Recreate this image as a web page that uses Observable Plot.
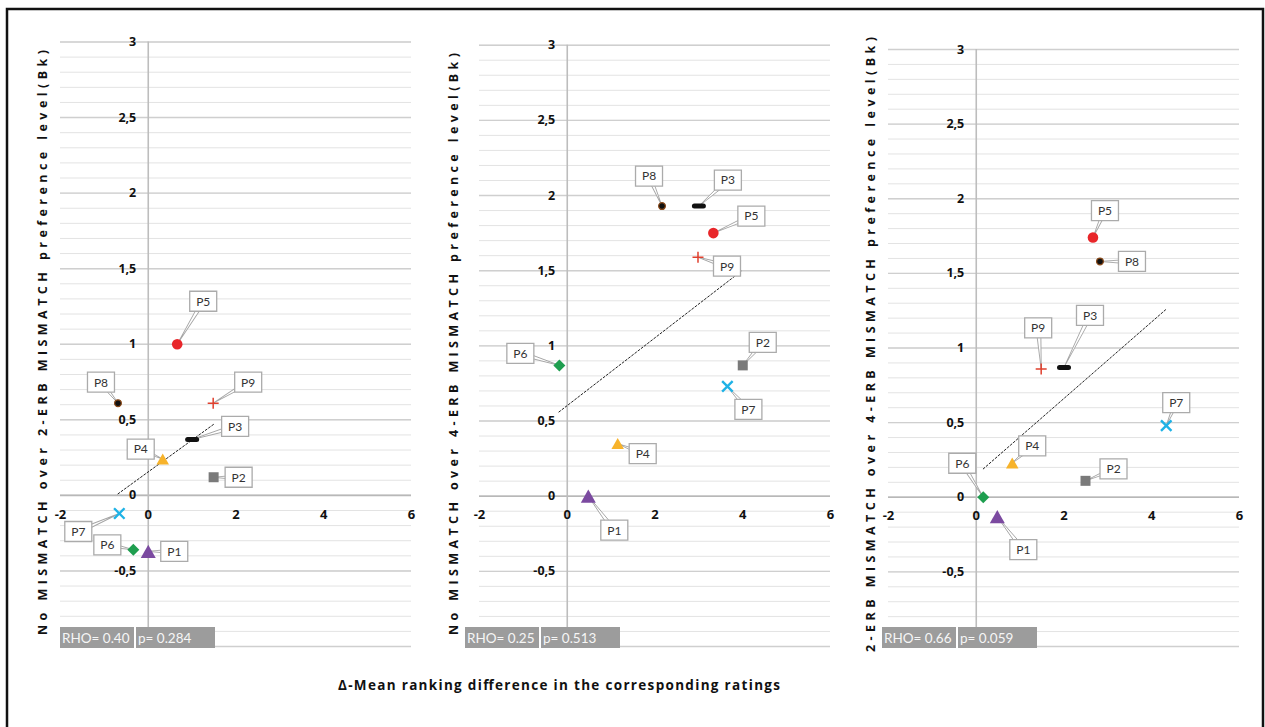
<!DOCTYPE html>
<html><head><meta charset="utf-8">
<script src="https://cdn.jsdelivr.net/npm/d3@7"></script>
<script src="https://cdn.jsdelivr.net/npm/@observablehq/plot@0.6"></script>
<style>
html,body{margin:0;padding:0;background:#fff;}
#root{position:relative;width:1265px;height:727px;overflow:hidden;font-family:Lato,"Open Sans",sans-serif;}
.panel{position:absolute;top:0;}
.stat{position:absolute;height:21px;background:#9c9c9c;color:#f6f6f6;font:13.5px Lato,sans-serif;line-height:22px;white-space:nowrap;}
.stat span{position:absolute;top:0;height:21px;padding-left:2px;}
.stat .sep{position:absolute;top:0;width:2px;height:21px;background:#fff;}
#overlay{position:absolute;left:0;top:0;pointer-events:none;}
</style></head><body><div id="root"></div>
<script>
// ---------- data ----------
const participants = ["P1","P2","P3","P4","P5","P6","P7","P8","P9"];
const panel1X = [0.0, 1.49, 1.0, 0.33, 0.66, -0.34, -0.66, -0.69, 1.48];
const panel1Y = [-0.37, 0.12, 0.37, 0.24, 1.0, -0.36, -0.12, 0.61, 0.61];
const panel2X = [0.48, 4.0, 3.0, 1.15, 3.33, -0.18, 3.65, 2.16, 2.98];
const panel2Y = [0.0, 0.87, 1.93, 0.35, 1.75, 0.87, 0.73, 1.93, 1.59];
const panel3X = [0.48, 2.49, 2.0, 0.82, 2.66, 0.16, 4.33, 2.82, 1.48];
const panel3Y = [-0.13, 0.11, 0.87, 0.23, 1.74, 0.0, 0.48, 1.58, 0.86];
// regression (trend) line endpoints [x1, y1, x2, y2]
const trend1 = [-0.69, 0.01, 1.49, 0.47];
const trend2 = [-0.19, 0.56, 3.98, 1.50];
const trend3 = [0.16, 0.19, 4.33, 1.26];
const rhoValues = ["0.40", "0.25", "0.66"];
const pValues = ["0.284", "0.513", "0.059"];
const yTitles = [
  "No MISMATCH over 2-ERB MISMATCH preference level(Bk)",
  "No MISMATCH over 4-ERB MISMATCH preference level(Bk)",
  "2-ERB MISMATCH over 4-ERB MISMATCH preference level(Bk)"
];
const xTitle = "Δ-Mean ranking difference in the corresponding ratings";
const yTickValues = [-0.5, 0, 0.5, 1, 1.5, 2, 2.5, 3];
const yTickLabels = ["-0,5", "0", "0,5", "1", "1,5", "2", "2,5", "3"];
const xTickValues = [-2, 0, 2, 4, 6];
const xTickLabels = ["-2", "0", "2", "4", "6"];

// ---------- styles / layout ----------
const S = {
  circle: r => ({draw(c){ c.moveTo(r,0); c.arc(0,0,r,0,2*Math.PI); }}),
  tri: w => ({draw(c){ const h=w*0.88; c.moveTo(0,-h/2); c.lineTo(w/2,h/2); c.lineTo(-w/2,h/2); c.closePath(); }}),
  square: s => ({draw(c){ c.rect(-s/2,-s/2,s,s); }}),
  diamond: s => ({draw(c){ c.moveTo(0,-s/2); c.lineTo(s/2,0); c.lineTo(0,s/2); c.lineTo(-s/2,0); c.closePath(); }}),
  plus: s => ({draw(c){ c.moveTo(-s/2,0); c.lineTo(s/2,0); c.moveTo(0,-s/2); c.lineTo(0,s/2); }}),
  times: s => ({draw(c){ c.moveTo(-s/2,-s/2); c.lineTo(s/2,s/2); c.moveTo(s/2,-s/2); c.lineTo(-s/2,s/2); }}),
  dash: (w,h) => ({draw(c){ const r=h/2; c.moveTo(-w/2+r,-r); c.lineTo(w/2-r,-r); c.arc(w/2-r,0,r,-Math.PI/2,Math.PI/2); c.lineTo(-w/2+r,r); c.arc(-w/2+r,0,r,Math.PI/2,3*Math.PI/2); c.closePath(); }})
};
const markerStyle = {
  P1: {symbol: S.tri(15), fill: "#7b4aa0", stroke: "none"},
  P2: {symbol: S.square(10), fill: "#7a7a7a", stroke: "none"},
  P3: {symbol: S.dash(14,5), fill: "#111", stroke: "none"},
  P4: {symbol: S.tri(12.5), fill: "#f7b32b", stroke: "none"},
  P5: {symbol: S.circle(5.3), fill: "#e8262a", stroke: "none"},
  P6: {symbol: S.diamond(12), fill: "#1e9e4f", stroke: "none"},
  P7: {symbol: S.times(10.5), fill: "none", stroke: "#1fb2e6", strokeWidth: 2.4},
  P8: {symbol: S.circle(3.4), fill: "#111", stroke: "#8a4a1a", strokeWidth: 1.2},
  P9: {symbol: S.plus(11), fill: "none", stroke: "#e0402e", strokeWidth: 1.5}
};
// callout offsets (px) from each point to its label box centre, P1..P9
const labelOffsets = [
  [[26,0],[25,0],[43,-13],[-22,-10],[26,-43],[-26,-5],[-41,18],[-17,-21],[35,-21]],
  [[26,34],[20,-23],[29,-26],[25,10],[38,-17],[-39,-12],[21,23],[-13,-30],[29,9]],
  [[26,33],[28,-12],[26,-52],[20,-17],[12,-27],[-21,-34],[10,-23],[32,0],[-3,-41]]
];
const panels = [
  {X: panel1X, Y: panel1Y, trend: trend1, plotLeft: 60, top: 41.5},
  {X: panel2X, Y: panel2Y, trend: trend2, plotLeft: 479, top: 44.7},
  {X: panel3X, Y: panel3Y, trend: trend3, plotLeft: 888, top: 49}
];
const titlePos = [{x: 47, y: 342.5, len: 585}, {x: 458, y: 344, len: 582}, {x: 875, y: 344.5, len: 615}];
const statLeft = [60, 465, 882];

const root = document.getElementById("root");
const minorGrid = d3.range(-10, 31).map(i => i / 10);
const majorGrid = minorGrid.filter(v => Math.abs(v * 2 - Math.round(v * 2)) < 1e-9);
const boxSym = {draw(c){ c.rect(-13.5,-10,27,20); }};
const wedge = {draw(c, l){ c.moveTo(0,0); c.lineTo(-2.2,-l); c.lineTo(2.2,-l); c.closePath(); }};
const font = "Lato, 'Open Sans', sans-serif";
const boldFont = "'Open Sans', Lato, sans-serif";

panels.forEach((p, pi) => {
  const pts = participants.map((name, i) => ({name, x: p.X[i], y: p.Y[i]}));
  const marks = [
    Plot.ruleY(minorGrid, {x1: -2, x2: 6, stroke: "#e3e3e3", strokeWidth: 1}),
    Plot.ruleY(majorGrid, {x1: -2, x2: 6, stroke: "#cfcfcf", strokeWidth: 1.4}),
    Plot.ruleY([0], {x1: -2, x2: 6, stroke: "#b8b8b8", strokeWidth: 1.6}),
    Plot.ruleX([0], {y1: -1, y2: 3, stroke: "#bdbdbd", strokeWidth: 1.6}),
    Plot.line([[p.trend[0], p.trend[1]], [p.trend[2], p.trend[3]]], {x: d => d[0], y: d => d[1], stroke: "#222", strokeWidth: 1, strokeDasharray: "2,2"}),
    Plot.text(yTickValues, {x: 0, y: d => d, text: (d, i) => yTickLabels[i], dx: -12, textAnchor: "end", fontWeight: "bold", fontSize: 12.5, fontFamily: boldFont, fill: "#111"}),
    Plot.text(xTickValues, {x: d => d, y: 0, text: (d, i) => xTickLabels[i], dy: 19, fontWeight: "bold", fontSize: 13, fontFamily: boldFont, fill: "#111"})
  ];
  pts.forEach((d, i) => {
    const [dx, dy] = labelOffsets[pi][i];
    const len = Math.hypot(dx, dy);
    const rot = Math.atan2(dx, -dy) * 180 / Math.PI;
    marks.push(Plot.vector([d], {x: "x", y: "y", length: len, rotate: rot, anchor: "start", shape: wedge, stroke: "#a5a5a5", fill: "#fff", strokeWidth: 0.9}));
  });
  pts.forEach((d, i) => {
    const st = markerStyle[d.name];
    marks.push(Plot.dot([d], {x: "x", y: "y", r: 5, symbol: st.symbol, fill: st.fill, stroke: st.stroke, strokeWidth: st.strokeWidth || 1}));
  });
  pts.forEach((d, i) => {
    const [dx, dy] = labelOffsets[pi][i];
    marks.push(Plot.dot([d], {x: "x", y: "y", symbol: boxSym, dx, dy, fill: "#fff", stroke: "#ababab", strokeWidth: 1.3}));
    marks.push(Plot.text([d], {x: "x", y: "y", text: "name", dx, dy: dy + 0.5, fontSize: 12, fontFamily: font, fill: "#333"}));
  });
  const chart = Plot.plot({
    width: 411, height: 666,
    marginLeft: 40, marginRight: 20, marginTop: p.top, marginBottom: 20,
    x: {domain: [-2, 6], axis: null},
    y: {domain: [-1, 3], axis: null},
    style: {background: "transparent", overflow: "visible"},
    marks
  });
  chart.classList.add("panel");
  chart.style.left = (p.plotLeft - 40) + "px";
  root.appendChild(chart);

  const stat = document.createElement("div");
  stat.className = "stat";
  stat.style.left = statLeft[pi] + "px";
  stat.style.top = "627px";
  stat.style.width = "155px";
  stat.innerHTML = `<span style="left:0">RHO= ${rhoValues[pi]}</span><div class="sep" style="left:74px"></div><span style="left:76px">p= ${pValues[pi]}</span>`;
  root.appendChild(stat);
});

// overlay: frame and axis titles
const ov = d3.select(root).append("svg").attr("id", "overlay").attr("width", 1265).attr("height", 727);
ov.append("path").attr("d", "M7,727 V9 H1263 V727").attr("fill", "none").attr("stroke", "#111").attr("stroke-width", 2.5);
yTitles.forEach((t, i) => {
  const tp = titlePos[i];
  ov.append("text")
    .attr("transform", `translate(${tp.x},${tp.y}) rotate(-90)`)
    .attr("text-anchor", "middle")
    .attr("textLength", tp.len).attr("lengthAdjust", "spacing")
    .attr("font-family", boldFont).attr("font-weight", "bold").attr("font-size", 12.5)
    .attr("fill", "#111").text(t);
});
ov.append("text")
  .attr("x", 559).attr("y", 690)
  .attr("text-anchor", "middle")
  .attr("textLength", 442).attr("lengthAdjust", "spacing")
  .attr("font-family", boldFont).attr("font-weight", "bold").attr("font-size", 13.5)
  .attr("fill", "#111").text(xTitle);
</script>
</body></html>
